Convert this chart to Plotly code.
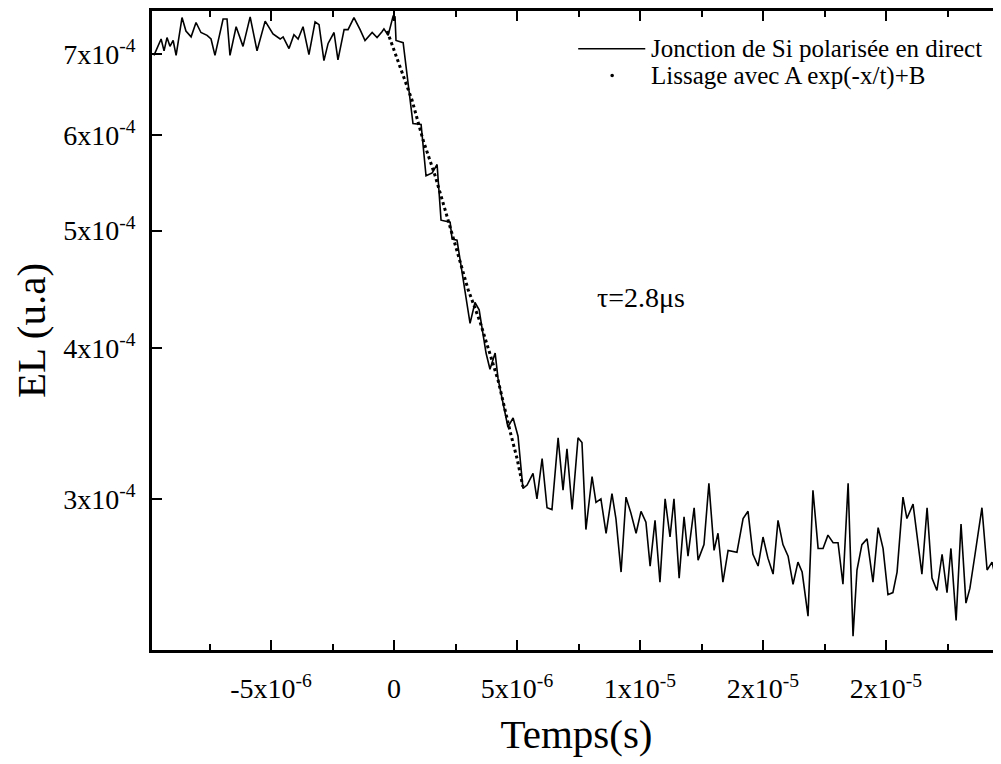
import numpy as np
import plotly.graph_objects as go

# Temps en microsecondes, EL en unités de 1e-4
temps_us = [
    -9.76, -9.47, -9.35, -9.23, -9.11, -8.98, -8.86, -8.62, -8.46, -8.25,
    -8.05, -7.85, -7.60, -7.44, -7.28, -6.95, -6.79, -6.67, -6.42, -6.14,
    -5.85, -5.57, -5.24, -4.92, -4.63, -4.51, -4.27, -4.07, -3.90, -3.70,
    -3.46, -3.21, -3.05, -2.85, -2.68, -2.44, -2.28, -2.03, -1.87, -1.63,
    -1.38, -1.18, -0.89, -0.69, -0.49, -0.41, -0.24, -0.04, 0.04, 0.08,
    0.37, 0.77, 1.10, 1.30, 1.55, 1.75, 1.91, 2.28, 2.36, 2.56,
    3.09, 3.29, 3.46, 3.74, 3.90, 4.11, 4.23, 4.63, 4.84, 5.04,
    5.24, 5.41, 5.65, 5.81, 6.02, 6.22, 6.42, 6.67, 6.87, 7.03,
    7.24, 7.48, 7.64, 7.80, 8.05, 8.21, 8.41, 8.62, 8.86, 9.02,
    9.23, 9.43, 9.63, 9.84, 10.04, 10.24, 10.41, 10.61, 10.81, 11.02,
    11.22, 11.38, 11.59, 11.79, 11.95, 12.20, 12.36, 12.60, 12.80, 13.01,
    13.17, 13.37, 13.58, 13.94, 14.19, 14.39, 14.59, 14.80, 15.00, 15.20,
    15.41, 15.61, 15.81, 16.02, 16.22, 16.42, 16.59, 16.83, 17.03, 17.24,
    17.44, 17.64, 17.85, 18.05, 18.25, 18.46, 18.66, 18.82, 19.02, 19.23,
    19.47, 19.68, 19.88, 20.08, 20.28, 20.45, 20.69, 20.85, 21.10, 21.46,
    21.67, 21.87, 22.07, 22.28, 22.48, 22.64, 22.85, 23.05, 23.25, 23.41,
    23.62, 23.90, 24.11, 24.31, 24.63,
]
el_e4 = [
    6.98, 7.20, 7.04, 7.22, 7.10, 7.18, 6.98, 7.50, 7.31, 7.23,
    7.43, 7.29, 7.25, 7.20, 6.98, 7.48, 7.48, 6.98, 7.37, 7.10,
    7.51, 7.04, 7.45, 7.27, 7.20, 7.23, 7.07, 7.26, 7.20, 7.37,
    6.99, 7.44, 7.40, 6.91, 7.14, 7.29, 6.92, 7.33, 7.33, 7.50,
    7.33, 7.18, 7.29, 7.22, 7.30, 7.34, 7.25, 7.52, 7.51, 7.18,
    7.15, 6.13, 6.12, 5.55, 5.58, 5.67, 5.10, 5.08, 4.92, 4.91,
    4.19, 4.36, 4.30, 3.96, 3.84, 3.96, 3.77, 3.44, 3.50, 3.38,
    3.06, 3.08, 3.15, 3.00, 3.24, 2.95, 2.94, 3.37, 3.05, 3.30,
    2.94, 3.37, 3.34, 2.83, 3.13, 2.98, 3.00, 2.81, 3.03, 2.89,
    2.61, 3.01, 2.92, 2.81, 2.93, 2.87, 2.64, 2.88, 2.56, 3.00,
    2.79, 3.00, 2.58, 2.90, 2.69, 2.95, 2.67, 2.75, 3.09, 2.72,
    2.81, 2.56, 2.72, 2.71, 2.89, 2.93, 2.70, 2.64, 2.79, 2.68,
    2.60, 2.88, 2.75, 2.69, 2.55, 2.66, 2.61, 2.40, 3.05, 2.73,
    2.73, 2.80, 2.76, 2.76, 2.55, 3.09, 2.31, 2.62, 2.75, 2.78,
    2.56, 2.84, 2.73, 2.50, 2.51, 2.61, 3.01, 2.89, 2.97, 2.60,
    2.95, 2.58, 2.52, 2.70, 2.51, 2.73, 2.38, 2.86, 2.46, 2.53,
    2.70, 2.95, 2.62, 2.66, 2.49,
]

fit_temps_us = [-0.28, 0.24, 0.73, 1.18, 1.67, 2.15, 2.56, 3.01, 3.50, 3.90, 4.23, 4.72, 5.00, 5.24]
fit_el_e4 = [7.31, 6.83, 6.41, 5.94, 5.55, 5.14, 4.82, 4.47, 4.20, 3.95, 3.76, 3.41, 3.24, 3.07]

x_tickvals = [-5e-6, 0, 5e-6, 1e-5, 1.5e-5, 2e-5]
x_ticktext = ["-5x10<sup>-6</sup>", "0", "5x10<sup>-6</sup>", "1x10<sup>-5</sup>",
              "2x10<sup>-5</sup>", "2x10<sup>-5</sup>"]
y_tickvals = [3e-4, 4e-4, 5e-4, 6e-4, 7e-4]
y_ticktext = ["3x10<sup>-4</sup>", "4x10<sup>-4</sup>", "5x10<sup>-4</sup>",
              "6x10<sup>-4</sup>", "7x10<sup>-4</sup>"]

t = np.array(temps_us) * 1e-6
el = np.array(el_e4) * 1e-4
fit_t = np.array(fit_temps_us) * 1e-6
fit_el = np.array(fit_el_e4) * 1e-4

FONT = "Times New Roman, Liberation Serif, serif"

fig = go.Figure()
fig.add_trace(go.Scatter(
    x=t, y=el, mode='lines',
    line=dict(color='black', width=1.6),
    name='Jonction de Si polarisée en direct', showlegend=False
))
fig.add_trace(go.Scatter(
    x=fit_t, y=fit_el, mode='lines',
    line=dict(color='black', width=3, dash='dot'),
    name='Lissage avec A exp(-x/t)+B', showlegend=False
))

# légende dessinée à la main (trait long comme sur l'original)
fig.add_shape(type='line', xref='paper', yref='paper',
              x0=0.502, x1=0.581, y0=0.941, y1=0.941,
              line=dict(color='black', width=1.5))
fig.add_shape(type='circle', xref='paper', yref='paper',
              xsizemode='pixel', ysizemode='pixel',
              xanchor=0.542, yanchor=0.899, x0=-1.8, x1=1.8, y0=-1.8, y1=1.8,
              fillcolor='black', line=dict(width=0))
fig.add_annotation(x=0.585, y=0.941, xref='paper', yref='paper',
                   text='Jonction de Si polarisée en direct', showarrow=False,
                   xanchor='left', yanchor='middle',
                   font=dict(family=FONT, size=25, color='black'))
fig.add_annotation(x=0.585, y=0.899, xref='paper', yref='paper',
                   text='Lissage avec A exp(-x/t)+B', showarrow=False,
                   xanchor='left', yanchor='middle',
                   font=dict(family=FONT, size=25, color='black'))

fig.add_annotation(x=10.04e-6, y=np.log10(4.4e-4), xref='x', yref='y',
                   text='τ=2.8μs', showarrow=False,
                   font=dict(family=FONT, size=28, color='black'))

fig.update_xaxes(
    range=[-9.84e-6, 2.4675e-5],
    tickmode='array', tickvals=x_tickvals, ticktext=x_ticktext,
    ticks='inside', ticklen=10, tickwidth=2, tickcolor='black',
    minor=dict(dtick=2.5e-6, tick0=0, ticks='inside', ticklen=6,
               tickwidth=2, tickcolor='black', showgrid=False),
    showline=True, linewidth=2.5, linecolor='black', mirror='ticks',
    showgrid=False, zeroline=False,
    tickfont=dict(family=FONT, size=28, color='black'),
    ticklabelstandoff=12,
    title=dict(text='Temps(s)', font=dict(family=FONT, size=41, color='black'),
               standoff=16),
)
fig.update_yaxes(
    type='log', range=[-3.6478, -3.1195],
    tickmode='array', tickvals=y_tickvals, ticktext=y_ticktext,
    ticks='inside', ticklen=10, tickwidth=2, tickcolor='black',
    showline=True, linewidth=2.5, linecolor='black', mirror=False,
    showgrid=False, zeroline=False,
    tickfont=dict(family=FONT, size=28, color='black'),
    ticklabelstandoff=8,
    title=dict(text='EL (u.a)', font=dict(family=FONT, size=41, color='black'),
               standoff=12),
)

# la page ajoute une marge de 8 px : figure un peu plus petite que la fenêtre
fig.update_layout(
    width=993, height=756,
    margin=dict(l=144, r=0, t=0, b=114),
    plot_bgcolor='white', paper_bgcolor='white',
    showlegend=False,
)

fig.write_html("out.html")
